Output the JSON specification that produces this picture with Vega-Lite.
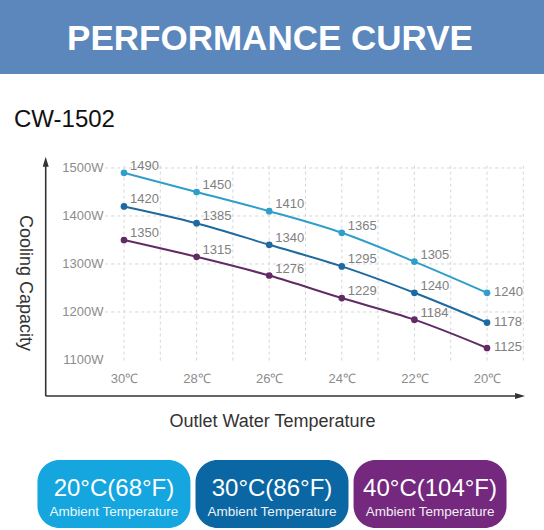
{
  "$schema": "https://vega.github.io/schema/vega-lite/v6.json",
  "padding": 0,
  "spacing": 30,
  "background": "white",
  "datasets": {
    "curves": [
      {"t": 30, "w": 1490, "s": "20°C(68°F)"},
      {"t": 28, "w": 1450, "s": "20°C(68°F)"},
      {"t": 26, "w": 1410, "s": "20°C(68°F)"},
      {"t": 24, "w": 1365, "s": "20°C(68°F)"},
      {"t": 22, "w": 1305, "s": "20°C(68°F)"},
      {"t": 20, "w": 1240, "s": "20°C(68°F)"},
      {"t": 30, "w": 1420, "s": "30°C(86°F)"},
      {"t": 28, "w": 1385, "s": "30°C(86°F)"},
      {"t": 26, "w": 1340, "s": "30°C(86°F)"},
      {"t": 24, "w": 1295, "s": "30°C(86°F)"},
      {"t": 22, "w": 1240, "s": "30°C(86°F)"},
      {"t": 20, "w": 1178, "s": "30°C(86°F)"},
      {"t": 30, "w": 1350, "s": "40°C(104°F)"},
      {"t": 28, "w": 1315, "s": "40°C(104°F)"},
      {"t": 26, "w": 1276, "s": "40°C(104°F)"},
      {"t": 24, "w": 1229, "s": "40°C(104°F)"},
      {"t": 22, "w": 1184, "s": "40°C(104°F)"},
      {"t": 20, "w": 1125, "s": "40°C(104°F)"}
    ],
    "ambient": [
      {"s": "20°C(68°F)", "sub": "Ambient Temperature"},
      {"s": "30°C(86°F)", "sub": "Ambient Temperature"},
      {"s": "40°C(104°F)", "sub": "Ambient Temperature"}
    ],
    "wgrid": [{"w": 1500}, {"w": 1400}, {"w": 1300}, {"w": 1200}],
    "tgrid": [
      {"t": 30}, {"t": 29}, {"t": 28}, {"t": 27}, {"t": 26}, {"t": 25},
      {"t": 24}, {"t": 23}, {"t": 22}, {"t": 21}, {"t": 20}, {"t": 19}
    ],
    "frame": [{"part": "frame"}]
  },
  "vconcat": [
    {
      "width": 544,
      "height": 74,
      "view": {"fill": "#5b87bd", "stroke": null},
      "data": {"values": [{"label": "PERFORMANCE CURVE"}]},
      "mark": {
        "type": "text",
        "color": "white",
        "fontSize": 35,
        "fontWeight": "bold",
        "baseline": "alphabetic",
        "dy": 13,
        "dx": -2
      },
      "encoding": {"text": {"field": "label"}}
    },
    {
      "width": 544,
      "height": 285,
      "title": {
        "text": ["", "CW-1502"],
        "lineHeight": 4,
        "anchor": "start",
        "dx": 14,
        "fontSize": 24,
        "fontWeight": "normal",
        "color": "#111111",
        "offset": 8
      },
      "data": {"name": "curves"},
      "layer": [
        {
          "data": {"name": "wgrid"},
          "mark": {"type": "rule", "color": "#d6d6d6", "strokeDash": [3, 3], "strokeWidth": 1},
          "encoding": {
            "y": {"field": "w", "type": "quantitative"},
            "x": {"datum": 30.52},
            "x2": {"datum": 18.98}
          }
        },
        {
          "data": {"name": "tgrid"},
          "mark": {"type": "rule", "color": "#d6d6d6", "strokeDash": [3, 3], "strokeWidth": 1},
          "encoding": {
            "x": {"field": "t", "type": "quantitative"},
            "y": {"datum": 1505},
            "y2": {"datum": 1096}
          }
        },
        {
          "data": {"name": "frame"},
          "mark": {"type": "rule", "color": "#333333", "strokeWidth": 1.6},
          "encoding": {
            "x": {"datum": 32.157},
            "y": {"datum": 1025},
            "y2": {"datum": 1513}
          }
        },
        {
          "data": {"name": "frame"},
          "mark": {"type": "rule", "color": "#333333", "strokeWidth": 1.6},
          "encoding": {
            "y": {"datum": 1025},
            "x": {"datum": 32.157},
            "x2": {"datum": 19.09}
          }
        },
        {
          "data": {"name": "frame"},
          "mark": {"type": "point", "shape": "M0,-1L0.6,1L-0.6,1Z", "filled": true, "color": "#333333", "size": 100, "opacity": 1},
          "encoding": {
            "x": {"datum": 32.157},
            "y": {"datum": 1513}
          }
        },
        {
          "data": {"name": "frame"},
          "mark": {"type": "point", "shape": "M1,0L-1,-0.6L-1,0.6Z", "filled": true, "color": "#333333", "size": 100, "opacity": 1},
          "encoding": {
            "x": {"datum": 19.09},
            "y": {"datum": 1025}
          }
        },
        {
          "mark": {"type": "line", "interpolate": "monotone", "strokeWidth": 2},
          "encoding": {
            "x": {
              "field": "t",
              "type": "quantitative",
              "scale": {"domain": [18.43, 33.416], "reverse": true, "nice": false, "zero": false},
              "axis": {
                "orient": "bottom",
                "offset": -55,
                "domain": false,
                "ticks": false,
                "grid": false,
                "values": [30, 28, 26, 24, 22, 20],
                "labelExpr": "datum.value + '℃'",
                "labelFontSize": 13,
                "labelColor": "#8c8c8c",
                "labelPadding": 2,
                "labelDx": 3,
                "labelOverlap": false,
                "labelFlush": false,
                "title": "Outlet Water Temperature",
                "titleFontSize": 18,
                "titleFontWeight": "normal",
                "titleColor": "#333333",
                "titlePadding": 27
              }
            },
            "y": {
              "field": "w",
              "type": "quantitative",
              "scale": {"domain": [964.58, 1558.33], "nice": false, "zero": false},
              "axis": {
                "orient": "left",
                "offset": -107,
                "domain": false,
                "ticks": false,
                "grid": false,
                "values": [1500, 1400, 1300, 1200, 1100],
                "labelExpr": "datum.value + 'W'",
                "labelFontSize": 13,
                "labelColor": "#8c8c8c",
                "labelPadding": 4,
                "labelOverlap": false,
                "labelFlush": false,
                "title": "Cooling Capacity",
                "titleAngle": 90,
                "titleFontSize": 18,
                "titleFontWeight": "normal",
                "titleColor": "#333333",
                "titlePadding": 46
              }
            },
            "color": {
              "field": "s",
              "type": "nominal",
              "scale": {
                "domain": ["20°C(68°F)", "30°C(86°F)", "40°C(104°F)"],
                "range": ["#2f9fca", "#1d69a0", "#622b66"]
              },
              "legend": null
            }
          }
        },
        {
          "mark": {"type": "point", "filled": true, "size": 45, "opacity": 1},
          "encoding": {
            "x": {"field": "t", "type": "quantitative"},
            "y": {"field": "w", "type": "quantitative"},
            "color": {"field": "s", "type": "nominal", "legend": null}
          }
        },
        {
          "transform": [{"filter": "datum.t > 20"}],
          "mark": {"type": "text", "align": "left", "baseline": "middle", "dx": 6, "dy": -7, "fontSize": 13, "color": "#7f7f7f"},
          "encoding": {
            "x": {"field": "t", "type": "quantitative"},
            "y": {"field": "w", "type": "quantitative"},
            "text": {"field": "w", "type": "quantitative"}
          }
        },
        {
          "transform": [{"filter": "datum.t == 20"}],
          "mark": {"type": "text", "align": "left", "baseline": "middle", "dx": 7, "dy": -1, "fontSize": 13, "color": "#7f7f7f"},
          "encoding": {
            "x": {"field": "t", "type": "quantitative"},
            "y": {"field": "w", "type": "quantitative"},
            "text": {"field": "w", "type": "quantitative"}
          }
        }
      ]
    },
    {
      "width": 544,
      "height": 68,
      "data": {"name": "ambient"},
      "encoding": {
        "x": {
          "field": "s",
          "type": "nominal",
          "sort": null,
          "axis": null,
          "scale": {"type": "band", "paddingInner": 0.032, "paddingOuter": 0.237}
        }
      },
      "layer": [
        {
          "mark": {"type": "rect", "cornerRadius": 22},
          "encoding": {
            "color": {
              "field": "s",
              "type": "nominal",
              "scale": {
                "domain": ["20°C(68°F)", "30°C(86°F)", "40°C(104°F)"],
                "range": ["#15a6df", "#0b67a3", "#74287e"]
              },
              "legend": null
            }
          }
        },
        {
          "mark": {"type": "text", "color": "white", "fontSize": 24, "baseline": "alphabetic", "dy": 2},
          "encoding": {"text": {"field": "s"}}
        },
        {
          "mark": {"type": "text", "color": "white", "fontSize": 13.5, "baseline": "alphabetic", "dy": 22, "opacity": 0.92},
          "encoding": {"text": {"field": "sub"}}
        }
      ]
    }
  ],
  "resolve": {"scale": {"x": "independent", "y": "independent", "color": "independent"}},
  "config": {
    "font": "Liberation Sans",
    "view": {"stroke": null}
  }
}
